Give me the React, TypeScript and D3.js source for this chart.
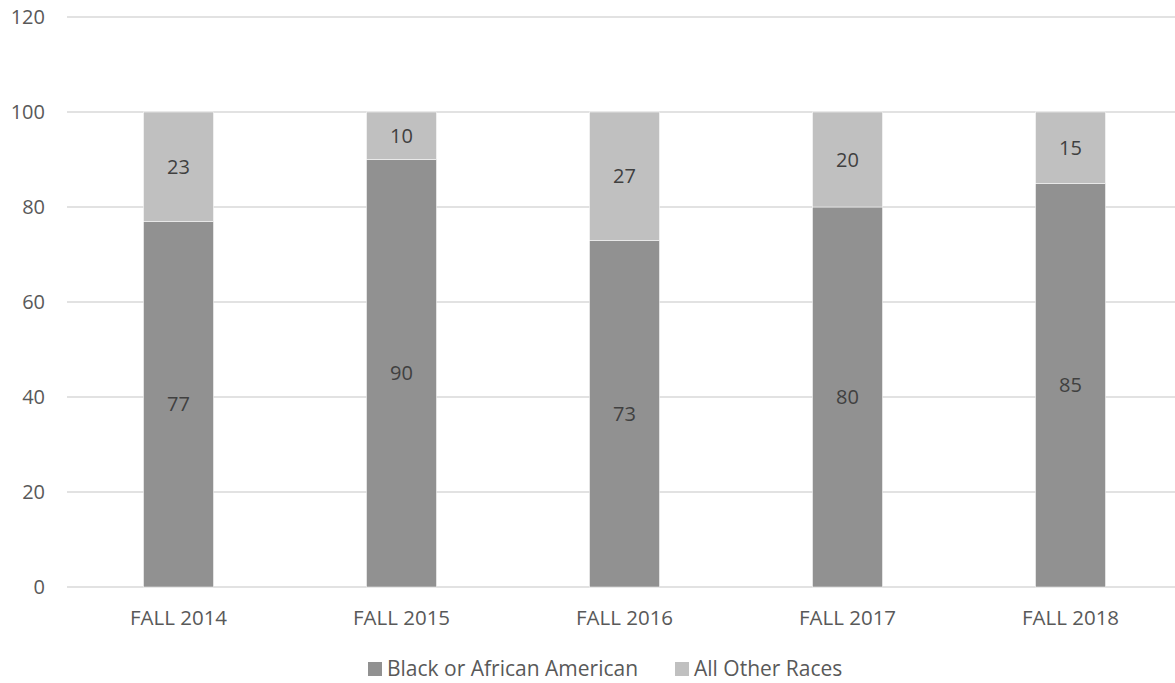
import React from "react";
import * as d3 from "d3";

const categories = ["FALL 2014", "FALL 2015", "FALL 2016", "FALL 2017", "FALL 2018"];
const blackValues = [77, 90, 73, 80, 85];
const otherValues = [23, 10, 27, 20, 15];
const yTicks = [0, 20, 40, 60, 80, 100, 120];
const seriesNames = ["Black or African American", "All Other Races"];
const seriesColors = ["#919191", "#c0c0c0"];

const W = 1175;
const H = 683;
const FONT = "'Open Sans', sans-serif";
const TEXT = "#595959";

export default function App() {
  const x = d3
    .scaleBand<string>()
    .domain(categories)
    .range([67, 1182])
    .paddingInner(0.686)
    .paddingOuter(0.343);
  const y = d3.scaleLinear().domain([0, 120]).range([587, 17]);

  const rows = categories.map((c, i) => ({ cat: c, black: blackValues[i], other: otherValues[i] }));
  const stack = d3.stack<any>().keys(["black", "other"])(rows);

  return (
    <svg
      width={W}
      height={H}
      style={{ position: "absolute", left: 0, top: 0, background: "#fff" }}
      fontFamily={FONT}
    >
      {yTicks.map((t) => (
        <g key={t}>
          <line x1={67} x2={W} y1={y(t)} y2={y(t)} stroke="#d9d9d9" strokeWidth={1.3} />
          <text x={45} y={y(t)} dy="0.35em" textAnchor="end" fontSize={20} fill={TEXT}>
            {t}
          </text>
        </g>
      ))}
      {stack.map((s, si) => (
        <g key={si}>
          {s.map((d: any, i: number) => (
            <g key={i}>
              <rect
                x={x(categories[i])}
                width={x.bandwidth()}
                y={y(d[1])}
                height={y(d[0]) - y(d[1])}
                fill={seriesColors[si]}
                stroke="#ffffff"
                strokeWidth={0.5}
              />
              <text
                x={(x(categories[i]) as number) + x.bandwidth() / 2}
                y={y((d[0] + d[1]) / 2)}
                dy="0.35em"
                textAnchor="middle"
                fontSize={20}
                fill="#404040"
              >
                {d[1] - d[0]}
              </text>
            </g>
          ))}
        </g>
      ))}
      {categories.map((c) => (
        <text
          key={c}
          x={(x(c) as number) + x.bandwidth() / 2}
          y={625}
          textAnchor="middle"
          fontSize={20.5}
          fill={TEXT}
        >
          {c}
        </text>
      ))}
      <g>
        <rect x={368} y={662} width={14} height={14} fill={seriesColors[0]} />
        <text x={387} y={676} fontSize={21} fill={TEXT}>
          {seriesNames[0]}
        </text>
        <rect x={675} y={662} width={14} height={14} fill={seriesColors[1]} />
        <text x={694} y={676} fontSize={21} fill={TEXT}>
          {seriesNames[1]}
        </text>
      </g>
    </svg>
  );
}
